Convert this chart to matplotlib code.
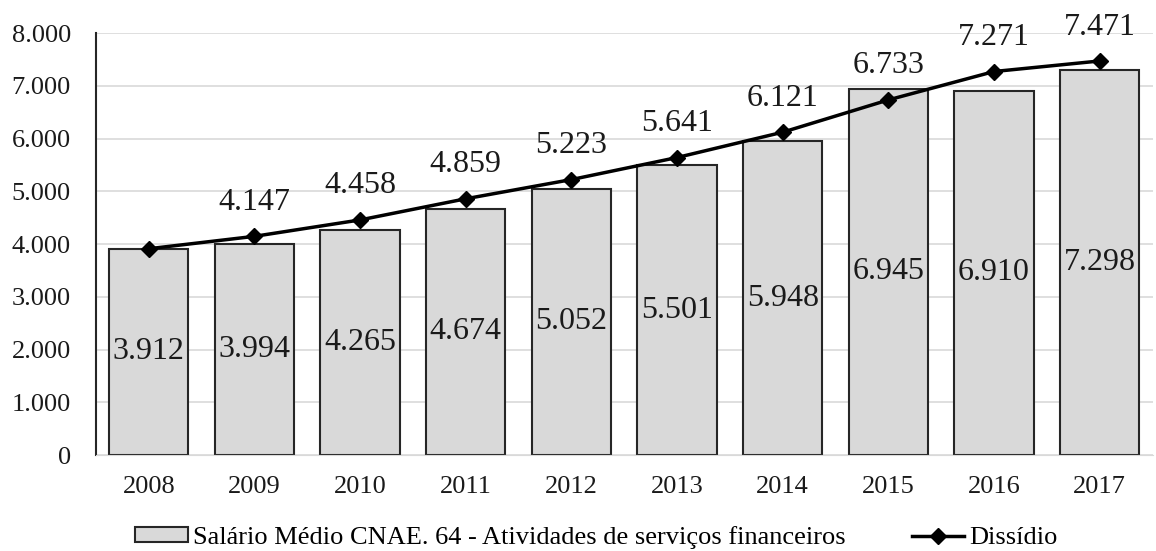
import matplotlib.pyplot as plt
import numpy as np

plt.rcParams['font.family'] = ['Liberation Serif', 'DejaVu Serif']

anos = ['2008', '2009', '2010', '2011', '2012', '2013', '2014', '2015', '2016', '2017']
salario = [3912, 3994, 4265, 4674, 5052, 5501, 5948, 6945, 6910, 7298]
dissidio = [3912, 4147, 4458, 4859, 5223, 5641, 6121, 6733, 7271, 7471]
yticks = [0, 1000, 2000, 3000, 4000, 5000, 6000, 7000, 8000]


def fmt(v):
    # ponto como separador de milhar
    return f"{v:,}".replace(",", ".")


fig = plt.figure(figsize=(11.56, 5.51), dpi=100)
ax = fig.add_axes([0.083, 0.174, 0.914, 0.766])

x = np.arange(len(anos))
barras = ax.bar(x, salario, width=0.75, color='#d9d9d9', edgecolor='#262626', linewidth=1.5,
                label='Salário Médio CNAE. 64 - Atividades de serviços financeiros', zorder=2)
linha, = ax.plot(x, dissidio, color='black', linewidth=2.5, marker='D', markersize=8,
                 label='Dissídio', zorder=3)

# rótulos das barras no meio, rótulos da linha acima dos pontos
for i, v in enumerate(salario):
    ax.text(x[i], v / 2, fmt(v), ha='center', va='center', fontsize=23, color='#1a1a1a', zorder=4)
for i, v in enumerate(dissidio):
    if i == 0:
        continue
    ax.annotate(fmt(v), (x[i], v), xytext=(0, 14), textcoords='offset points',
                ha='center', va='bottom', fontsize=23, color='#1a1a1a')

ax.set_xlim(-0.5, len(anos) - 0.5)
ax.set_ylim(0, 8000)
ax.set_xticks(x)
ax.set_xticklabels(anos)
ax.set_yticks(yticks)
ax.set_yticklabels([fmt(v) for v in yticks])
ax.tick_params(length=0, labelsize=19, colors='#1a1a1a')
ax.tick_params(axis='x', pad=15)
ax.tick_params(axis='y', pad=18)
ax.yaxis.grid(True, color='#d9d9d9', linewidth=1.2, zorder=0)
ax.set_axisbelow(True)

for s in ['top', 'right']:
    ax.spines[s].set_visible(False)
ax.spines['left'].set_color('#262626')
ax.spines['left'].set_linewidth(1.5)
ax.spines['bottom'].set_color('#d9d9d9')

fig.legend([barras, linha], [barras.get_label(), linha.get_label()],
           loc='lower center', bbox_to_anchor=(0.516, 0.003), ncol=2, frameon=False,
           fontsize=19, handlelength=2.0, handleheight=0.5, columnspacing=2.5,
           handletextpad=0.2, borderpad=0.0, borderaxespad=0.0)

fig.savefig('out.png', dpi=100)
